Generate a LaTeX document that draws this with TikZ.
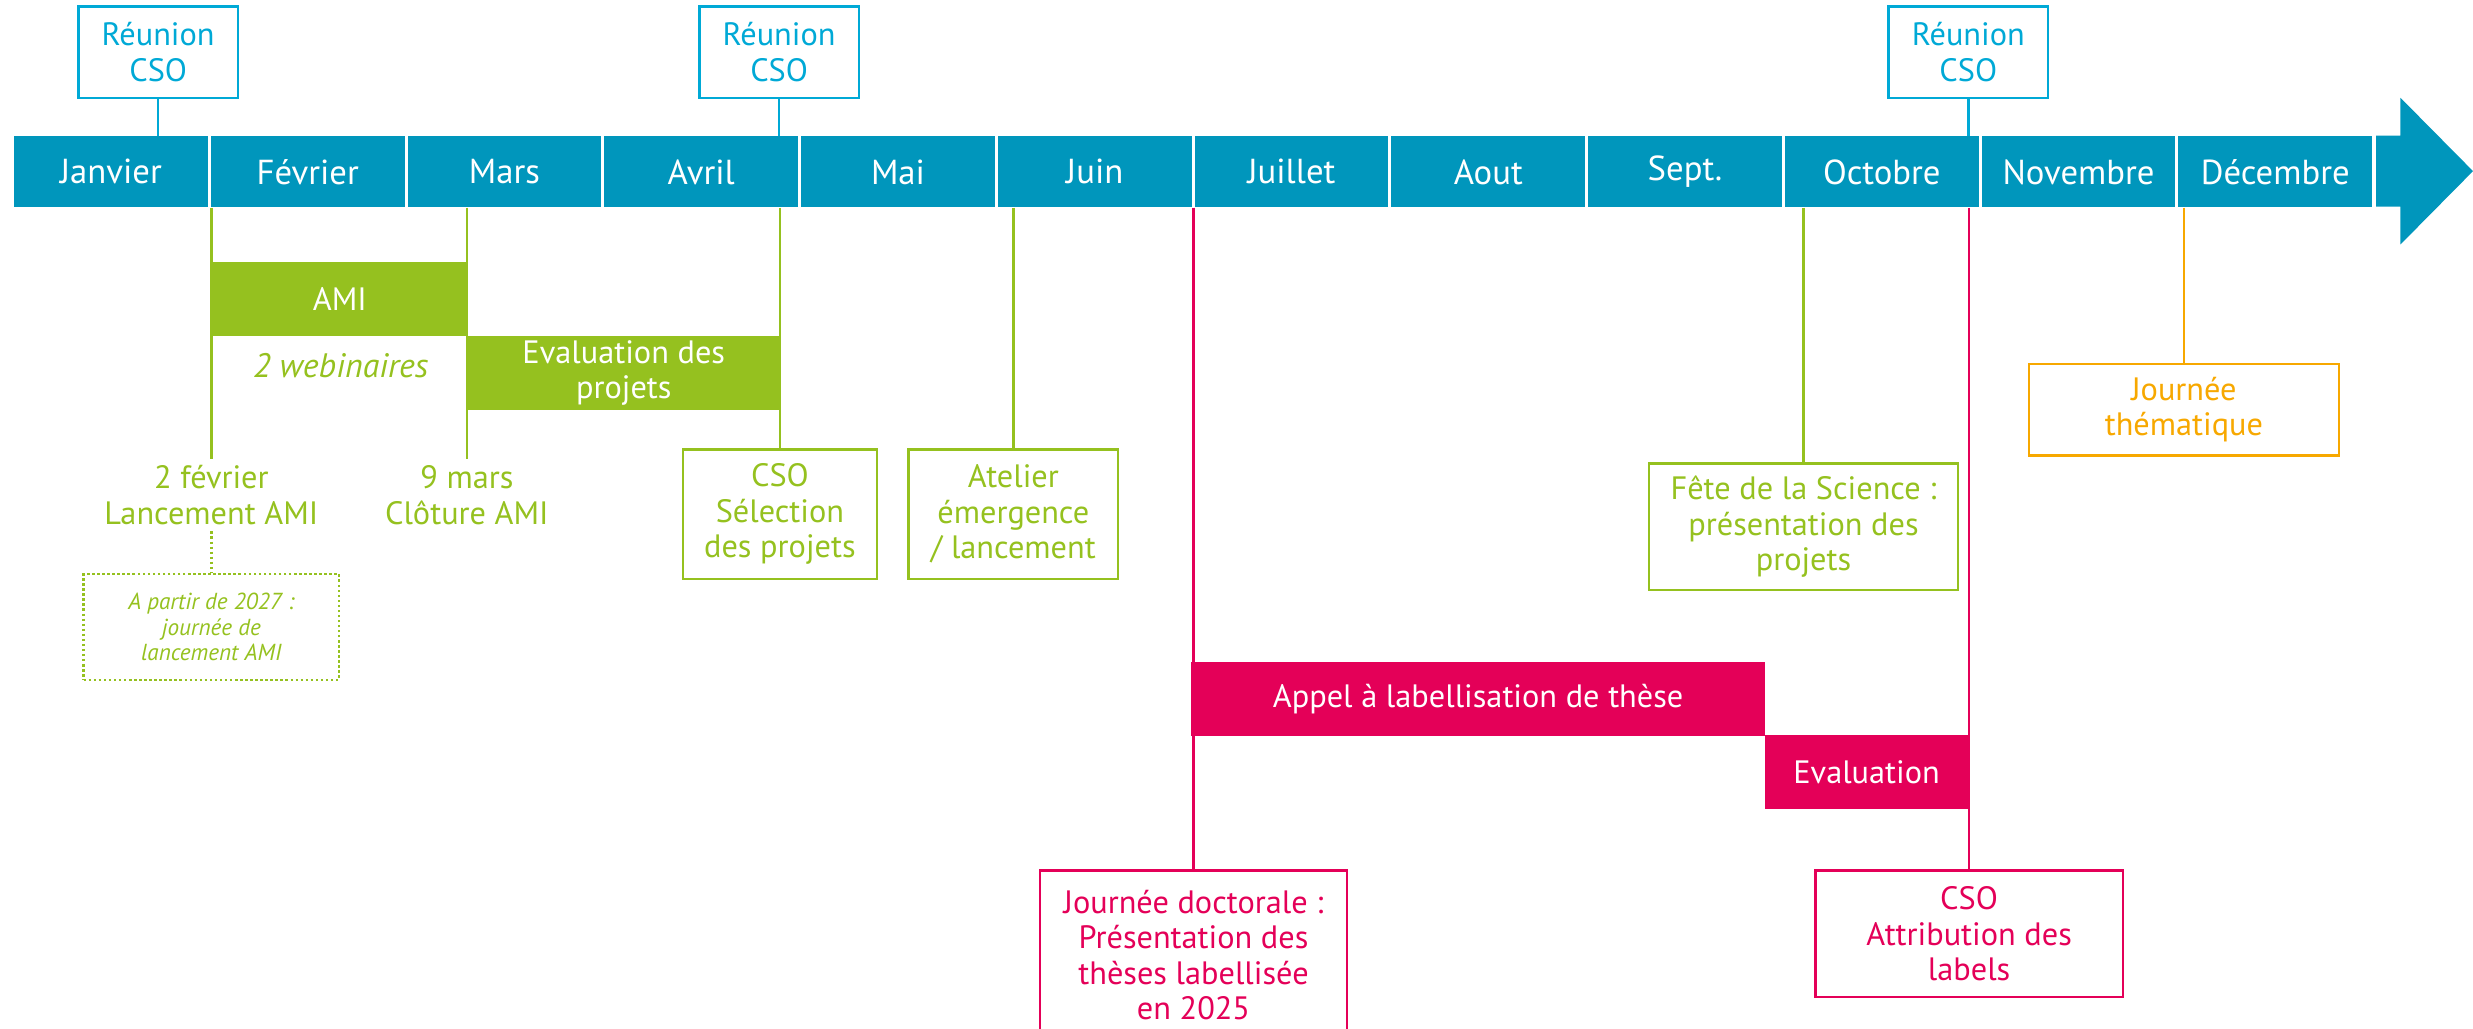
\documentclass[tikz,border=0pt]{standalone}
\usepackage{fontspec}
\setmainfont{PT Sans}
\definecolor{barblue}{RGB}{0,150,188}
\definecolor{cso}{RGB}{0,169,214}
\definecolor{vert}{RGB}{149,193,31}
\definecolor{rose}{RGB}{228,0,88}
\definecolor{orangej}{RGB}{247,168,0}
\begin{document}
\begin{tikzpicture}[x=1pt,y=-1pt,
  txt/.style={font=\fontsize{20.5}{22.5}\selectfont, align=center, inner sep=0pt},
  month/.style={txt, font=\fontsize{22}{24}\selectfont, fill=barblue, text=white, minimum width=122.75pt, minimum height=45pt},
  csobox/.style={txt, draw=cso, line width=1.6pt, text=cso, minimum width=101pt, minimum height=58pt},
  csoline/.style={draw=cso, line width=1.6pt},
  greenfill/.style={txt, fill=vert, text=white, minimum height=47pt},
  greenbox/.style={txt, draw=vert, line width=1.6pt, text=vert},
  greentext/.style={txt, text=vert, inner sep=4pt},
  greenline/.style={draw=vert, line width=1.5pt},
  rosefill/.style={txt, fill=rose, text=white, minimum height=47pt},
  rosebox/.style={txt, draw=rose, line width=1.6pt, text=rose},
  roseline/.style={draw=rose, line width=1.5pt},
  orangebox/.style={txt, draw=orangej, line width=1.6pt, text=orangej},
  orangeline/.style={draw=orangej, line width=1.5pt}]
\useasboundingbox (0,0) rectangle (1568,652);
% timeline
\foreach \m [count=\i from 0] in {Janvier,Février,Mars,Avril,Mai,Juin,Juillet,Aout,Sept.,Octobre,Novembre,Décembre}
  \node[month] (m\i) at ({8+124.75*\i+62.375},109) {\m};
\fill[barblue] (1506.5,86) -- (1522,86) -- (1522,62) -- (1568,108.5) -- (1522,155) -- (1522,131) -- (1506.5,131) -- cycle;
% CSO meetings
\node[csobox] (r1) at (100.3,33) {Réunion\\CSO};
\node[csobox] (r2) at (494,33) {Réunion\\CSO};
\node[csobox] (r3) at (1248,33) {Réunion\\CSO};
\draw[csoline] (r1.south) -- (r1.south |- m0.north);
\draw[csoline] (r2.south) -- (r2.south |- m3.north);
\draw[csoline] (r3.south) -- (r3.south |- m9.north);
% AMI
\node[greenfill, minimum width=163pt] (ami) at (215.5,189.5) {AMI};
\node[txt, text=vert, font=\fontsize{21.5}{22.5}\selectfont\itshape] (web) at (216,232) {2 webinaires};
\node[greenfill, minimum width=197pt] (eval) at (395.5,236.5) {Evaluation des\\projets};
\node[greentext] (lfev) at (134,314) {2 février\\Lancement AMI};
\node[greentext] (lmar) at (296,314) {9 mars\\Clôture AMI};
\draw[greenline] (lfev.north |- m1.south) -- (lfev.north);
\draw[greenline] (lmar.north |- m2.south) -- (lmar.north);
\node[greenbox, dash pattern=on 1.6pt off 1.6pt, minimum width=162pt, minimum height=67pt,
  font=\fontsize{14.7}{16.3}\selectfont\itshape] (later) at (134,397.5) {A partir de 2027 :\\journée de\\lancement AMI};
\draw[greenline, dash pattern=on 1.6pt off 1.6pt] (lfev.south) -- (later.north);
\node[greenbox, minimum width=123pt, minimum height=82pt] (csosel) at (494.5,326) {CSO\\Sélection\\des projets};
\draw[greenline] (csosel.north |- m3.south) -- (csosel.north);
\node[greenbox, minimum width=133pt, minimum height=82pt] (atel) at (642.5,326) {Atelier\\émergence\\/ lancement};
\draw[greenline] (atel.north |- m5.south) -- (atel.north);
\node[greenbox, minimum width=196pt, minimum height=80pt] (fete) at (1143.5,334) {Fête de la Science :\\présentation des\\projets};
\draw[greenline] (fete.north |- m9.south) -- (fete.north);
% thematic day
\node[orangebox, minimum width=196.5pt, minimum height=58pt] (them) at (1384.7,259.8) {Journée\\thématique};
\draw[orangeline] (them.north |- m11.south) -- (them.north);
% thesis labelling
\node[rosefill, minimum width=363.6pt] (appel) at (937.2,443.4) {Appel à labellisation de thèse};
\node[rosefill, minimum width=129pt] (evalr) at (1183.5,489.5) {Evaluation};
\node[txt, text=rose, minimum width=194.5pt, minimum height=107pt] (jd) at (756.75,605.5) {Journée doctorale :\\Présentation des\\thèses labellisée\\en 2025};
\draw[rose, line width=1.6pt] ([yshift=-60pt]jd.south west) -- (jd.north west) -- (jd.north east) -- ([yshift=-60pt]jd.south east);
\node[rosebox, minimum width=195pt, minimum height=80pt] (cso2) at (1248.5,592) {CSO\\Attribution des\\labels};
\draw[roseline] (jd.north |- m6.south) -- (jd.north);
\draw[roseline] (cso2.north |- m9.south) -- (cso2.north);
\end{tikzpicture}
\end{document}
